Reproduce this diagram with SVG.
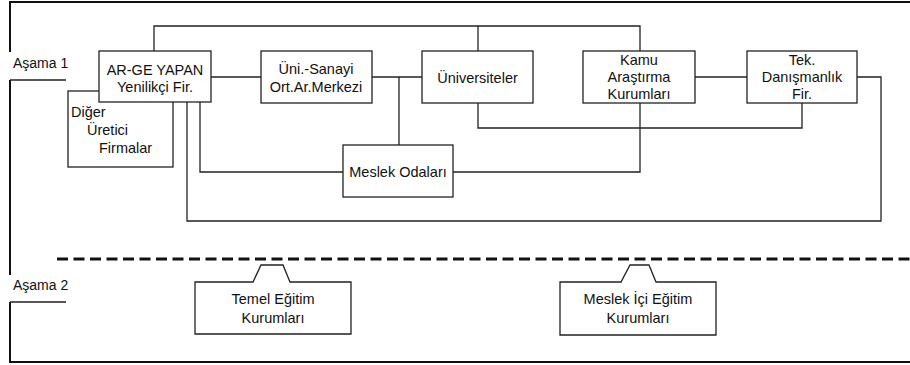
<svg xmlns="http://www.w3.org/2000/svg" width="910" height="365" viewBox="0 0 910 365">
<style>
text{font-family:"Liberation Sans",Arial,sans-serif;font-size:14.5px;fill:#111}
.c{text-anchor:middle}
.lbl{font-size:14px}
.box{fill:#fff;stroke:#222;stroke-width:1.3}
.ln{fill:none;stroke:#222;stroke-width:1.3}
.frame{fill:none;stroke:#111;stroke-width:2}
</style>
<rect width="910" height="365" fill="#fff"/>
<g id="frame">
<path class="frame" d="M10,52 V2 H910 M10,80 V275 M10,302 V362 H910"/>
<path class="ln" d="M10,80 H66 M10,302 H66"/>
<text class="lbl" x="13" y="68">Aşama 1</text>
<text class="lbl" x="13" y="290">Aşama 2</text>
<path d="M57,259 H910" fill="none" stroke="#111" stroke-width="3" stroke-dasharray="11 5.5"/>
</g>
<g id="connectors">
<path class="ln" d="M154,51 V26 H640 V51"/>
<path class="ln" d="M478,26 V51"/>
<path class="ln" d="M211,77 H261"/>
<path class="ln" d="M372,77 H422"/>
<path class="ln" d="M399,77 V145"/>
<path class="ln" d="M478,103 V128 H802 V103"/>
<path class="ln" d="M695,77 H747"/>
<path class="ln" d="M857,77 H881 V221 H187 V102"/>
<path class="ln" d="M200,102 V172 H343"/>
<path class="ln" d="M453,172 H640 V103"/>
</g>
<g id="diger">
<rect class="box" x="68" y="91" width="105" height="76"/>
<text x="71" y="117">Diğer</text>
<text x="87" y="135">Üretici</text>
<text x="99" y="153">Firmalar</text>
</g>
<g id="arge">
<rect class="box" x="99" y="51" width="112" height="51"/>
<text class="c" x="155" y="75">AR-GE YAPAN</text>
<text class="c" x="155" y="92">Yenilikçi Fir.</text>
</g>
<g id="unisanayi">
<rect class="box" x="261" y="51" width="111" height="52"/>
<text class="c" x="316" y="74">Üni.-Sanayi</text>
<text class="c" x="316" y="91.5">Ort.Ar.Merkezi</text>
</g>
<g id="universiteler">
<rect class="box" x="422" y="51" width="111" height="52"/>
<text class="c" x="477.5" y="83">Üniversiteler</text>
</g>
<g id="kamu">
<rect class="box" x="583" y="51" width="112" height="52"/>
<text class="c" x="639" y="65">Kamu</text>
<text class="c" x="639" y="82">Araştırma</text>
<text class="c" x="639" y="99">Kurumları</text>
</g>
<g id="tek">
<rect class="box" x="747" y="51" width="110" height="52"/>
<text class="c" x="802" y="65">Tek.</text>
<text class="c" x="802" y="82">Danışmanlık</text>
<text class="c" x="802" y="99">Fir.</text>
</g>
<g id="meslekodalari">
<rect class="box" x="343" y="145" width="110" height="52"/>
<text class="c" x="398" y="177">Meslek Odaları</text>
</g>
<g id="temel">
<path class="box" d="M195,282 H253 L261,265 H283 L290,282 H351 V334 H195 Z"/>
<text class="c" x="273" y="304">Temel Eğitim</text>
<text class="c" x="273" y="323">Kurumları</text>
</g>
<g id="meslekici">
<path class="box" d="M560,282 H621 L630,265 H649 L656,282 H716 V335 H560 Z"/>
<text class="c" x="638" y="304">Meslek İçi Eğitim</text>
<text class="c" x="638" y="323">Kurumları</text>
</g>
</svg>
